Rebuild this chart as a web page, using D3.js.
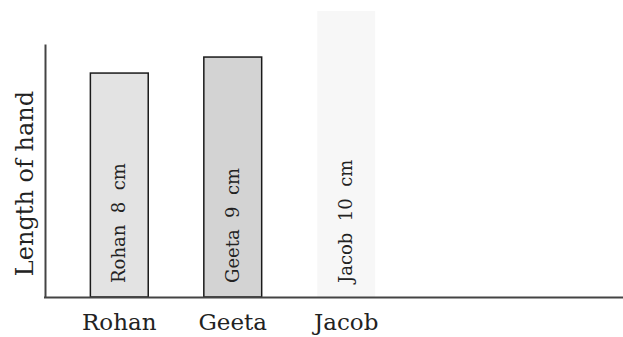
<!DOCTYPE html>
<html>
<head>
<meta charset="utf-8">
<script src="https://cdn.jsdelivr.net/npm/d3@7"></script>
<style>
  html, body { margin: 0; padding: 0; background: #fff; }
  svg { display: block; }
</style>
</head>
<body>
<svg id="chart" width="623" height="337"></svg>
<script>
// Data
const categories = ["Rohan", "Geeta", "Jacob"];
const lengthsCm = [8, 9, 10];              // values written on the bars
const barHeights = [7.83, 8.39, 10];       // drawn bar heights
const barFills = ["#e3e3e3", "#d3d3d3", "#f7f7f7"];
const barStroke = [true, true, false];
const yLabel = "Length of hand";

const svg = d3.select("#chart");
const x0 = 45, xEnd = 623, yBase = 297, yTop = 44;

const x = d3.scaleBand()
  .domain(categories)
  .range([x0, x0 + 375.5])
  .paddingInner(0.49)
  .paddingOuter(0.4);

const y = d3.scaleLinear().domain([0, 10]).range([yBase, 11]);

const serif = "'DejaVu Serif', 'Liberation Serif', serif";

// Bars
const bars = svg.append("g");
categories.forEach((c, i) => {
  bars.append("rect")
    .attr("x", x(c))
    .attr("y", y(barHeights[i]))
    .attr("width", x.bandwidth())
    .attr("height", yBase - y(barHeights[i]))
    .attr("fill", barFills[i])
    .attr("stroke", barStroke[i] ? "#1a1a1a" : "none")
    .attr("stroke-width", 1.5);
});

// Bar labels (rotated)
categories.forEach((c, i) => {
  const cx = x(c) + x.bandwidth() / 2 + 6;
  bars.append("text")
    .attr("transform", `translate(${cx},283) rotate(-90)`)
    .attr("text-anchor", "start")
    .attr("font-family", serif)
    .attr("font-size", 18)
    .attr("fill", "#222")
    .style("white-space", "pre")
    .text(`${c}  ${lengthsCm[i]}  cm`);
});

// Axes
const yAxis = d3.axisLeft(d3.scaleLinear().domain([0, 1]).range([yBase, yTop])).ticks(0).tickSize(0).tickFormat("");
svg.append("g").attr("transform", `translate(${x0},0)`).call(yAxis)
  .call(g => g.select(".domain").attr("stroke", "#444").attr("stroke-width", 2));

const xAxis = d3.axisBottom(x).tickSize(0).tickPadding(0);
svg.append("g").attr("transform", `translate(0,${yBase})`).call(xAxis)
  .call(g => g.select(".domain").attr("d", `M${x0 - 1},0.5H${xEnd}`).attr("stroke", "#444").attr("stroke-width", 2))
  .call(g => g.selectAll(".tick text")
    .attr("font-family", serif)
    .attr("font-size", 23)
    .attr("fill", "#222")
    .attr("y", 33)
    .attr("dy", null));

// Y label
svg.append("text")
  .attr("transform", `translate(33,${(90 + 277) / 2}) rotate(-90)`)
  .attr("text-anchor", "middle")
  .attr("font-family", serif)
  .attr("font-size", 24)
  .attr("fill", "#222")
  .text(yLabel);
</script>
</body>
</html>
